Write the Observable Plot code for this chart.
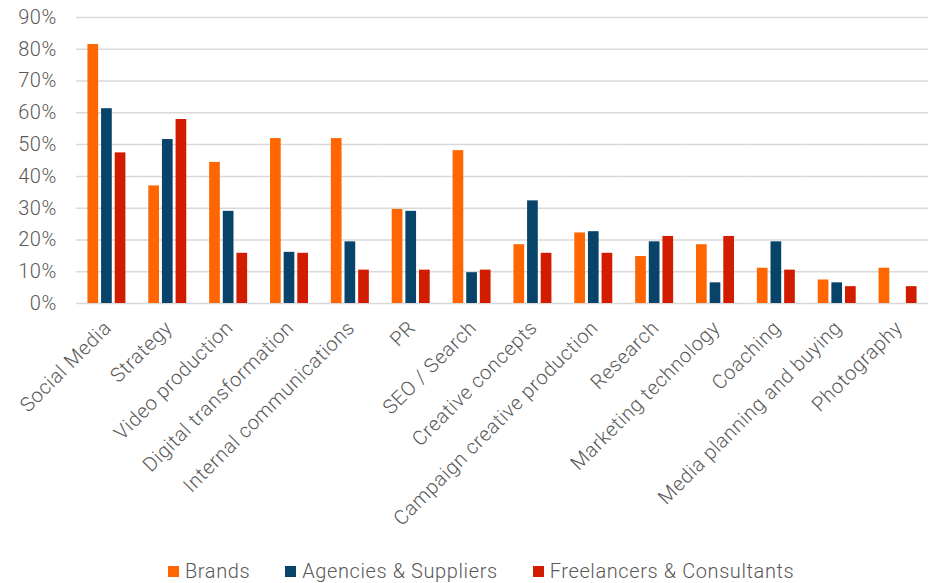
<!DOCTYPE html>
<html>
<head>
<meta charset="utf-8">
<script src="https://cdn.jsdelivr.net/npm/d3@7"></script>
<script src="https://cdn.jsdelivr.net/npm/@observablehq/plot@0.6"></script>
<style>
  html, body { margin: 0; padding: 0; background: #fff; }
  body { width: 932px; height: 583px; position: relative; overflow: hidden; font-family: Roboto, "Noto Sans", sans-serif; }
  #chart svg { display: block; }
  #chart svg text { letter-spacing: 0.6px; }
  #legend { position: absolute; top: 559px; left: 168px; display: flex; align-items: center; font-family: Roboto, sans-serif; font-weight: 300; font-size: 20px; letter-spacing: 0.6px; color: #595959; white-space: nowrap; }
  #legend .item { display: flex; align-items: center; margin-right: 35px; }
  #legend .sw { width: 11px; height: 11px; margin-right: 6px; }
</style>
</head>
<body>
<div id="chart"></div>
<div id="legend"></div>
<script>
const categories = ["Social Media", "Strategy", "Video production", "Digital transformation", "Internal communications", "PR", "SEO / Search", "Creative concepts", "Campaign creative production", "Research", "Marketing technology", "Coaching", "Media planning and buying", "Photography"];
const series = ["Brands", "Agencies & Suppliers", "Freelancers & Consultants"];
const colors = ["#FF6600", "#08436A", "#D21C00"];
const brands =      [0.815, 0.370, 0.444, 0.519, 0.519, 0.296, 0.481, 0.185, 0.222, 0.148, 0.185, 0.111, 0.074, 0.111];
const agencies =    [0.613, 0.516, 0.290, 0.161, 0.194, 0.290, 0.097, 0.323, 0.226, 0.194, 0.065, 0.194, 0.065, 0.000];
const freelancers = [0.474, 0.579, 0.158, 0.158, 0.105, 0.105, 0.105, 0.158, 0.158, 0.211, 0.211, 0.105, 0.053, 0.053];
const yTicks = [0, 0.1, 0.2, 0.3, 0.4, 0.5, 0.6, 0.7, 0.8, 0.9];

const seriesValues = [brands, agencies, freelancers];
const data = [];
categories.forEach((c, i) => {
  series.forEach((s, j) => {
    data.push({category: c, series: s, value: seriesValues[j][i]});
  });
});

const txt = {fontFamily: "Roboto, sans-serif", fontWeight: 300};

const plot = Plot.plot({
  width: 932,
  height: 552,
  marginTop: 17,
  marginBottom: 249,
  marginLeft: 76,
  marginRight: 4,
  style: {fontFamily: "Roboto, sans-serif", fontSize: "20px", color: "#595959", background: "#fff"},
  fx: {domain: categories, paddingInner: 0.376, paddingOuter: 0.188, round: false, label: null},
  x: {domain: series, paddingInner: 0.216, paddingOuter: 0, round: false, axis: null},
  y: {domain: [0, 0.9], label: null},
  color: {domain: series, range: colors},
  marks: [
    Plot.ruleY(yTicks, {stroke: "#d9d9d9", strokeWidth: 1.5, insetLeft: -11.5, insetRight: -11.5}),
    Plot.axisY({ticks: yTicks, tickFormat: d3.format(".0%"), tickSize: 0, tickPadding: 31, fontSize: 20, fill: "#595959", label: null, ...txt}),
    Plot.axisFx({anchor: "bottom", tickRotate: -45, textAnchor: "end", tickSize: 0, tickPadding: 21, dx: 1, fontSize: 20, fill: "#595959", label: null, ...txt}),
    Plot.barY(data, {fx: "category", x: "series", y: "value", fill: "series"})
  ]
});
document.getElementById("chart").appendChild(plot);

const legend = document.getElementById("legend");
series.forEach((s, j) => {
  const item = document.createElement("div");
  item.className = "item";
  const sw = document.createElement("span");
  sw.className = "sw";
  sw.style.background = colors[j];
  const label = document.createElement("span");
  label.textContent = s;
  item.appendChild(sw);
  item.appendChild(label);
  legend.appendChild(item);
});
</script>
</body>
</html>
